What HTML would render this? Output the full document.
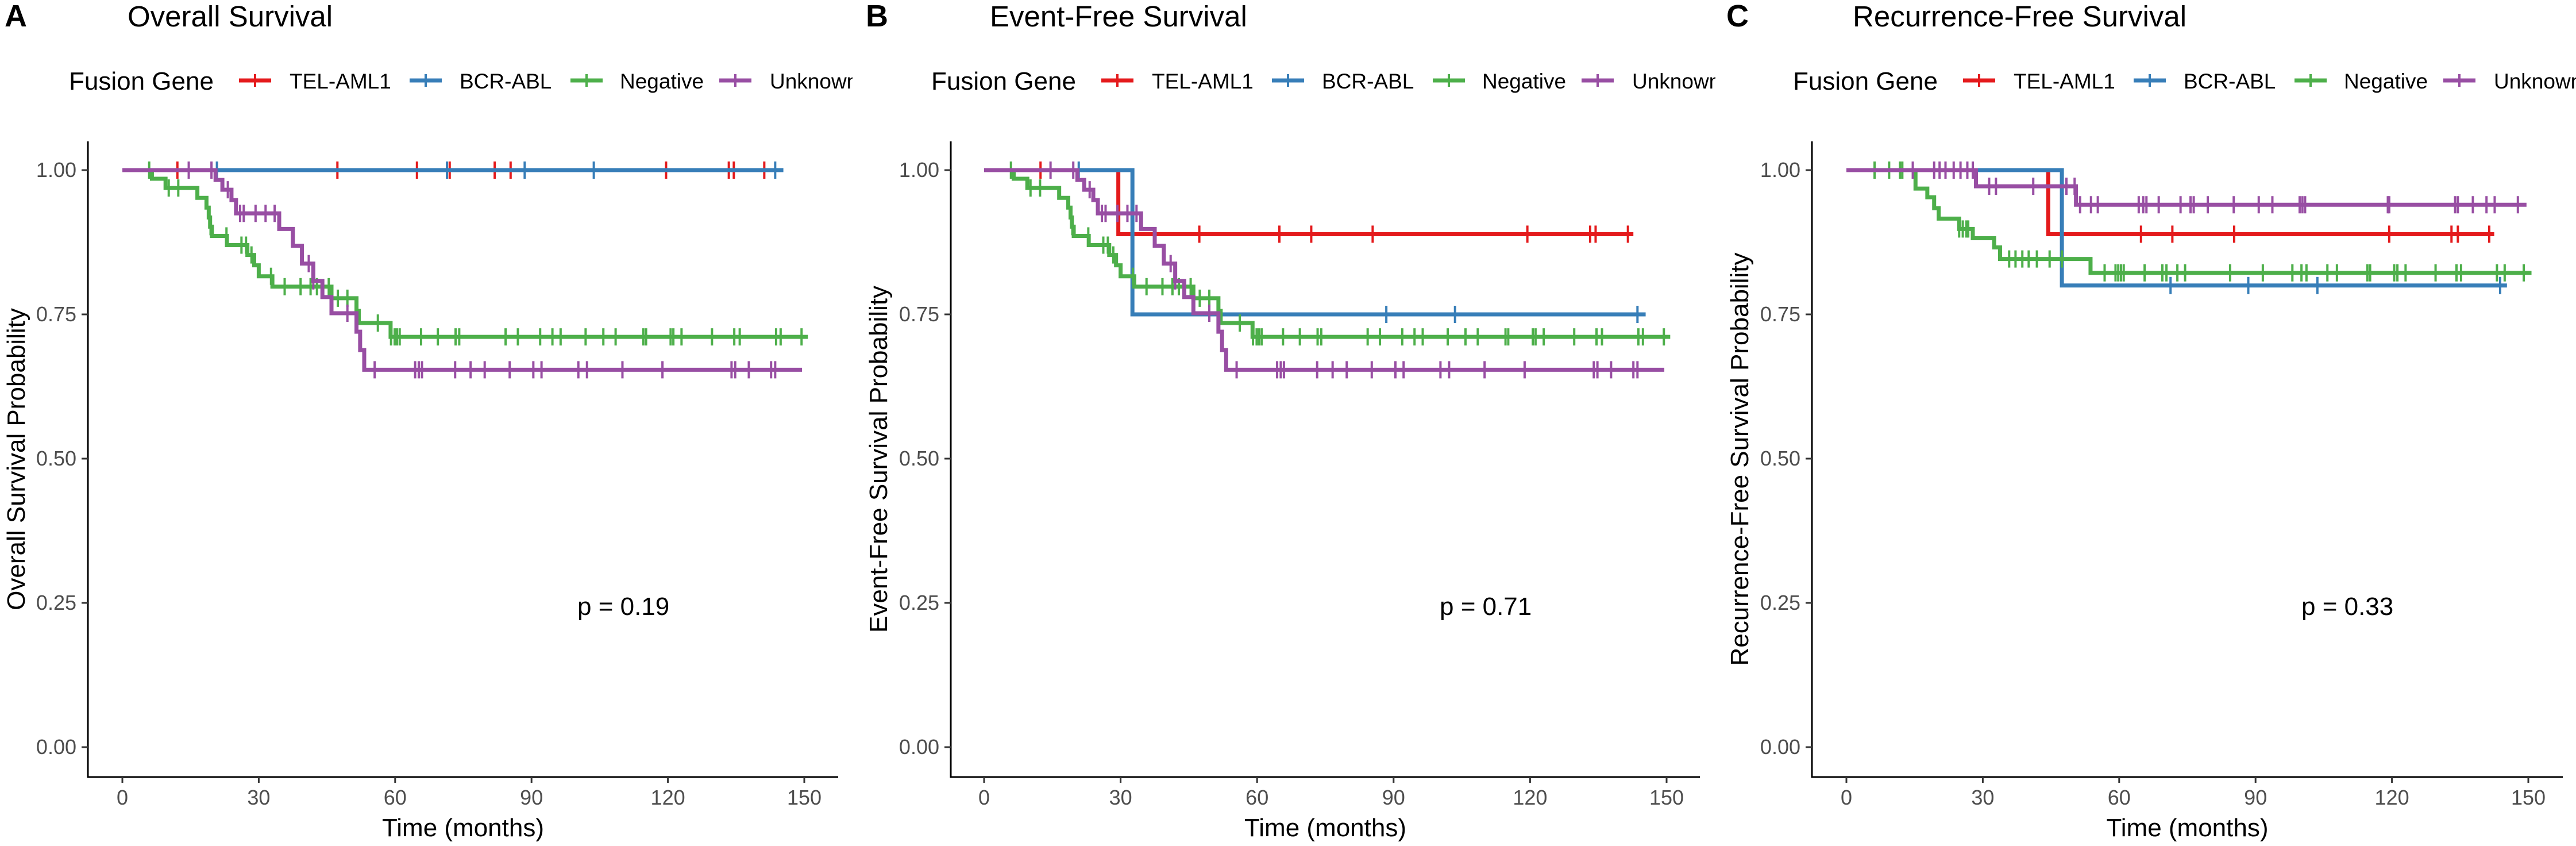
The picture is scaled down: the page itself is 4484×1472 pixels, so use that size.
<!DOCTYPE html>
<html><head><meta charset="utf-8"><style>
html,body{margin:0;padding:0;background:#fff}
svg{display:block;font-family:"Liberation Sans",Arial,sans-serif}
</style></head><body>
<svg id="fig" width="4484" height="1472" viewBox="0 0 4484 1472" xmlns="http://www.w3.org/2000/svg"></svg>
<script>
// ---------- data ----------
const groups = ["TEL-AML1","BCR-ABL","Negative","Unknown"];
const colors = ["#E41A1C","#377EB8","#4DAF4A","#984EA3"];
const xTicks = [0,30,60,90,120,150];
const yTicks = [0,0.25,0.5,0.75,1];
const yTickLabels = ["0.00","0.25","0.50","0.75","1.00"];
const panelLetters = ["A","B","C"];
const panelTitles = ["Overall Survival","Event-Free Survival","Recurrence-Free Survival"];
const yTitles = ["Overall Survival Probability","Event-Free Survival Probability","Recurrence-Free Survival Probability"];
const pValues = ["p = 0.19","p = 0.71","p = 0.33"];

// Panel A
const osRedT = [0]; const osRedV = [1]; const osRedEnd = 141.5;
const osRedCens = [12.1,47.3,64.8,72,81.9,85.4,119.6,133.4,134.5,141.2];
const osBlueT = [0]; const osBlueV = [1]; const osBlueEnd = 145.4;
const osBlueCens = [20.8,71.4,88.5,103.7,143.6];
const osGreenT = [0,6.5,9.5,16.5,18.5,19,19.3,19.7,23,27.5,29,30,33,46,51.5,52,59];
const osGreenV = [1,0.985,0.969,0.952,0.935,0.918,0.902,0.886,0.870,0.853,0.835,0.816,0.798,0.778,0.756,0.735,0.711];
const osGreenEnd = 150.8;
const osGreenCens = [5.9,10.2,12.3,19.4,22.9,26.2,27.2,28.4,32.7,35.7,39.2,41.4,42.8,45.4,47.4,49.5,56.2,59.1,59.9,60.4,61,65.7,69.4,73.3,74.1,84.3,87,91.9,94.6,96.4,101.9,105.8,108.5,114.6,115.2,120.6,121.2,123,129.7,134.6,135.8,143.8,144.8,149.4];
const osPurpleT = [0,20.5,22,24,25,34.5,37.5,39.5,42,44,46,51.5,52.3,53.2];
const osPurpleV = [1,0.983,0.966,0.948,0.925,0.898,0.869,0.838,0.808,0.780,0.752,0.72,0.688,0.654];
const osPurpleEnd = 149.5;
const osPurpleCens = [14.6,19.6,23.2,25.9,26.7,29.3,31.5,33.5,41,42,49.5,55.5,64.4,65.2,65.9,73.2,76.6,79.7,85.2,90.4,92.2,100.3,102.2,110,118.8,134,134.8,137.8,142.7,143.6];

// Panel B
const efsRedT = [0,29.5]; const efsRedV = [1,0.889]; const efsRedEnd = 142.7;
const efsRedCens = [12.4,47.3,64.9,71.9,85.4,119.4,133.2,134.4,141.5];
const efsBlueT = [0,32.6]; const efsBlueV = [1,0.75]; const efsBlueEnd = 145.4;
const efsBlueCens = [20.8,88.4,103.5,143.6];
const efsGreenT = osGreenT.slice(); const efsGreenV = osGreenV.slice(); const efsGreenEnd = 150.8;
const efsGreenCens = osGreenCens.slice();
const efsPurpleT = osPurpleT.slice(); const efsPurpleV = osPurpleV.slice(); const efsPurpleEnd = 149.5;
const efsPurpleCens = osPurpleCens.slice();

// Panel C
const rfsRedT = [0,44.4]; const rfsRedV = [1,0.889]; const rfsRedEnd = 142.5;
const rfsRedCens = [64.8,71.7,85.3,119.4,133.1,134.5,141.4];
const rfsBlueT = [0,47.4]; const rfsBlueV = [1,0.80]; const rfsBlueEnd = 145.3;
const rfsBlueCens = [71.3,88.4,103.6,143.8];
const rfsGreenT = [0,15.2,17.8,19.3,20.3,24.8,27.8,32.5,33.8,53.7];
const rfsGreenV = [1,0.968,0.953,0.934,0.916,0.898,0.882,0.866,0.846,0.822];
const rfsGreenEnd = 150.7;
const rfsGreenCens = [6.2,9.4,11.8,12.3,24.8,25.6,26.4,26.8,35.8,37.2,38.7,40.1,41.9,44.7,47.4,56.8,59.2,59.8,60.4,61,65.6,69.5,70.4,72.8,74.5,84.4,91.6,98.1,100.1,101.2,105.8,107.9,114.6,115.2,120.5,121.2,123,129.6,134.2,135.2,143.1,144.8,149];
const rfsPurpleT = [0,28.5,50.5]; const rfsPurpleV = [1,0.972,0.94]; const rfsPurpleEnd = 149.6;
const rfsPurpleCens = [14.6,19.3,20.5,21.8,23.6,25.1,26.6,27.8,31.4,32.9,41.1,48.4,50.2,51.4,53.8,55.3,64.3,65.3,66,68.7,73.5,75.7,76.4,79.5,85.2,90.7,93.7,99.7,100.3,100.9,119.1,119.4,133.9,134.5,137.8,140.8,142.6,147.7];

const panelSeries = [
 [[osRedT,osRedV,osRedEnd,osRedCens],[osBlueT,osBlueV,osBlueEnd,osBlueCens],[osGreenT,osGreenV,osGreenEnd,osGreenCens],[osPurpleT,osPurpleV,osPurpleEnd,osPurpleCens]],
 [[efsRedT,efsRedV,efsRedEnd,efsRedCens],[efsBlueT,efsBlueV,efsBlueEnd,efsBlueCens],[efsGreenT,efsGreenV,efsGreenEnd,efsGreenCens],[efsPurpleT,efsPurpleV,efsPurpleEnd,efsPurpleCens]],
 [[rfsRedT,rfsRedV,rfsRedEnd,rfsRedCens],[rfsBlueT,rfsBlueV,rfsBlueEnd,rfsBlueCens],[rfsGreenT,rfsGreenV,rfsGreenEnd,rfsGreenCens],[rfsPurpleT,rfsPurpleV,rfsPurpleEnd,rfsPurpleCens]]
];

// ---------- layout ----------
const layout = [
 {x0:213,x150:1400,axL:153,axR:1459,clipR:1484,letterX:8,titleX:222,legX:120,yTitleX:27,pX:1005},
 {x0:1713,x150:2901,axL:1655,axR:2959,clipR:2986,letterX:1507,titleX:1723,legX:1621,yTitleX:1528,pX:2506},
 {x0:3214,x150:4401,axL:3154,axR:4461,clipR:4484,letterX:3005,titleX:3225,legX:3121,yTitleX:3027,pX:4006}
];
const yOne=296, yZero=1300, axTop=246, axBot=1352;
const NS="http://www.w3.org/2000/svg";
const svg=document.getElementById('fig');
function mk(tag,attrs,parent){const e=document.createElementNS(NS,tag);for(const k in attrs)e.setAttribute(k,attrs[k]);(parent||svg).appendChild(e);return e;}
const defs=mk('defs',{});

layout.forEach((L,p)=>{
  const X=t=>L.x0+(L.x150-L.x0)*t/150;
  const Y=v=>yZero-(yZero-yOne)*v;
  const cp=mk('clipPath',{id:'clip'+p},defs);
  mk('rect',{x:L.letterX-10,y:0,width:L.clipR-L.letterX+10,height:1472},cp);
  const g=mk('g',{'clip-path':'url(#clip'+p+')'});
  
  

  let t=mk('text',{x:L.letterX,y:46,'font-size':54,'font-weight':'bold',fill:'#000'},g);t.textContent=panelLetters[p];
  
  
  t=mk('text',{x:L.titleX,y:46,'font-size':51,fill:'#000'},g);t.textContent=panelTitles[p];
  
  

  // legend
  const lg=mk('g',{},g);
  
  
  t=mk('text',{x:L.legX,y:156,'font-size':44,fill:'#000'},lg);t.textContent="Fusion Gene";
  
  
  const keyOff=[296,593,873,1132], labOff=[384,680,959,1220];
  groups.forEach((gn,i)=>{
    const eg=mk('g',{},lg);
    
    
    const kx=L.legX+keyOff[i];
    mk('line',{x1:kx,x2:kx+56,y1:140,y2:140,stroke:colors[i],'stroke-width':7},eg);
    mk('line',{x1:kx+28,x2:kx+28,y1:129,y2:151,stroke:colors[i],'stroke-width':4},eg);
    const tx=mk('text',{x:L.legX+labOff[i],y:154,'font-size':37,fill:'#000'},eg);tx.textContent=gn;
  });

  // axes
  const ax=mk('g',{},g);
  
  
  mk('line',{x1:L.axL,x2:L.axL,y1:axTop,y2:axBot+1.5,stroke:'#000','stroke-width':3},ax);
  mk('line',{x1:L.axL-1.5,x2:L.axR,y1:axBot,y2:axBot,stroke:'#000','stroke-width':3},ax);
  yTicks.forEach((v,i)=>{
    mk('line',{x1:L.axL-11,x2:L.axL,y1:Y(v),y2:Y(v),stroke:'#333','stroke-width':3},ax);
    const tx=mk('text',{x:L.axL-20,y:Y(v)+12,'font-size':36,fill:'#4D4D4D','text-anchor':'end'},ax);tx.textContent=yTickLabels[i];
    
    
  });
  xTicks.forEach(v=>{
    mk('line',{x1:X(v),x2:X(v),y1:axBot,y2:axBot+10,stroke:'#333','stroke-width':3},ax);
    const tx=mk('text',{x:X(v),y:1400,'font-size':36,fill:'#4D4D4D','text-anchor':'middle'},ax);tx.textContent=v;
    
    
  });
  t=mk('text',{x:(L.axL+L.axR)/2,y:1455,'font-size':44,fill:'#000','text-anchor':'middle'},ax);t.textContent="Time (months)";
  
  
  t=mk('text',{x:0,y:0,'font-size':44,fill:'#000','text-anchor':'middle',transform:`translate(${L.yTitleX+16},${(axTop+axBot)/2}) rotate(-90)`},ax);t.textContent=yTitles[p];
  
  

  // curves: lines first (red, blue, green, purple), then censor marks
  const valAtF=(T,V,tm)=>{let v=V[0];for(let k=0;k<T.length;k++){if(T[k]<=tm)v=V[k];}return v;};
  const sgs=[];
  [0,1,2,3].forEach(i=>{
    const [T,V,end]=panelSeries[p][i];
    const sg=mk('g',{},g);
    
    
    let d=`M${X(T[0])},${Y(V[0])}`;
    for(let k=1;k<T.length;k++){d+=` H${X(T[k])} V${Y(V[k])}`;}
    d+=` H${X(end)}`;
    mk('path',{d:d,fill:'none',stroke:colors[i],'stroke-width':7,'stroke-linejoin':'miter'},sg);
    sgs.push(sg);
  });
  [0,1,2,3].forEach(i=>{
    const [T,V,end,cens]=panelSeries[p][i];
    cens.forEach(c=>{
      const cy=Y(valAtF(T,V,c));
      const m=mk('line',{x1:X(c),x2:X(c),y1:cy-15,y2:cy+15,stroke:colors[i],'stroke-width':4},sgs[i]);
      
      
    });
  });

  t=mk('text',{x:L.pX,y:1070,'font-size':44,fill:'#000'},g);t.textContent=pValues[p];
  
  
});
</script>
</body></html>
